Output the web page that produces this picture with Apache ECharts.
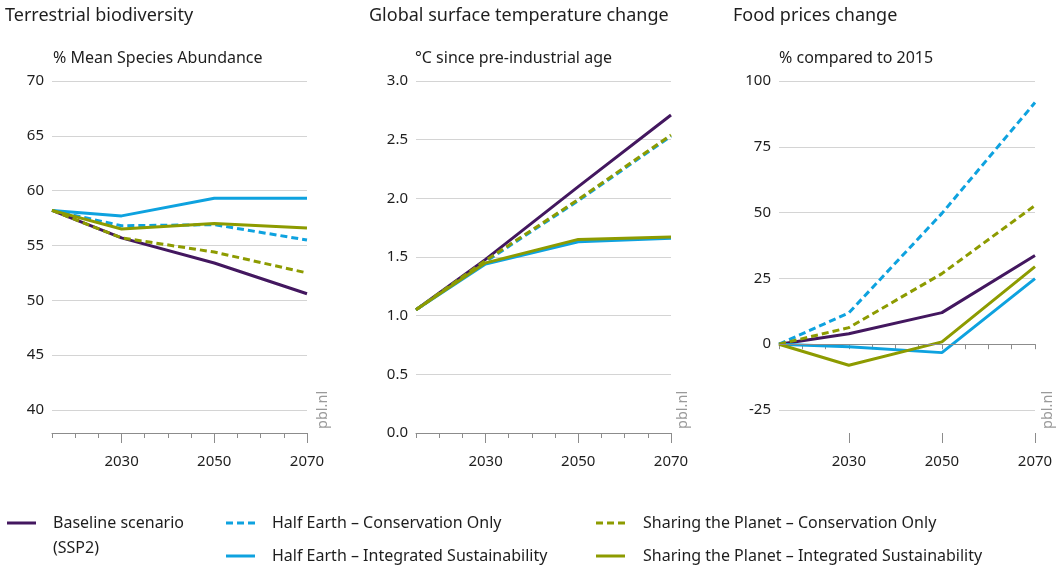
<!DOCTYPE html>
<html>
<head>
<meta charset="utf-8">
<script src="https://cdn.jsdelivr.net/npm/echarts@6/dist/echarts.min.js"></script>
<style>
  html, body { margin: 0; padding: 0; background: #fff; }
  #chart { width: 1064px; height: 568px; }
</style>
</head>
<body>
<div id="chart"></div>
<script>
// Scenario years (data points) and labelled axis years
const years = [2015, 2030, 2050, 2070];
const labeledYears = [2030, 2050, 2070];

// Terrestrial biodiversity, % Mean Species Abundance
const bioBaseline       = [58.2, 55.7, 53.4, 50.6];
const bioHalfEarthCons  = [58.2, 56.8, 56.9, 55.5];
const bioHalfEarthInt   = [58.2, 57.7, 59.3, 59.3];
const bioSharingCons    = [58.2, 55.7, 54.4, 52.5];
const bioSharingInt     = [58.2, 56.5, 57.0, 56.6];

// Global surface temperature change, °C since pre-industrial age
const tempBaseline      = [1.05, 1.48, 2.10, 2.71];
const tempHalfEarthCons = [1.05, 1.46, 1.98, 2.53];
const tempHalfEarthInt  = [1.05, 1.44, 1.63, 1.66];
const tempSharingCons   = [1.05, 1.47, 1.99, 2.54];
const tempSharingInt    = [1.05, 1.45, 1.65, 1.67];

// Food prices change, % compared to 2015
const foodBaseline      = [0, 4.0, 12.0, 33.7];
const foodHalfEarthCons = [0, 11.9, 49.7, 91.8];
const foodHalfEarthInt  = [0, -1.0, -3.2, 24.9];
const foodSharingCons   = [0, 6.3, 26.8, 52.7];
const foodSharingInt    = [0, -8.0, 0.9, 29.5];

// Panel titles and units
const panelTitles = ['Terrestrial biodiversity', 'Global surface temperature change', 'Food prices change'];
const panelUnits  = ['% Mean Species Abundance', '°C since pre-industrial age', '% compared to 2015'];

// Scenario names
const scenarioNames = [
  'Baseline scenario (SSP2)',
  'Half Earth – Conservation Only',
  'Half Earth – Integrated Sustainability',
  'Sharing the Planet – Conservation Only',
  'Sharing the Planet – Integrated Sustainability'
];

const PURPLE = '#43175f';
const BLUE = '#0ea2df';
const OLIVE = '#8d9b00';
const FONT = 'Noto Sans';
const TEXT = '#1e1e1e';
const DASH = [7, 4];

// style per scenario: [color, dashed]
const scenarioStyle = [
  [PURPLE, false],
  [BLUE, true],
  [BLUE, false],
  [OLIVE, true],
  [OLIVE, false]
];

// Panel geometry
const panels = [
  { left: 52,  right: 1064 - 307,  bottom: 568 - 410, offset: 23, min: 40, max: 70, interval: 5, fmt: v => String(v),
    titleX: 5, unitX: 53, srcDx: 16,
    data: [bioBaseline, bioHalfEarthCons, bioHalfEarthInt, bioSharingCons, bioSharingInt] },
  { left: 416, right: 1064 - 671,  bottom: 568 - 433, offset: 0,  min: 0, max: 3, interval: 0.5, fmt: v => v.toFixed(1),
    titleX: 369, unitX: 415, srcDx: 12,
    data: [tempBaseline, tempHalfEarthCons, tempHalfEarthInt, tempSharingCons, tempSharingInt] },
  { left: 779, right: 1064 - 1035, bottom: 568 - 410, offset: 23, min: -25, max: 100, interval: 25, fmt: v => String(v),
    titleX: 733, unitX: 779, srcDx: 13,
    data: [foodBaseline, foodHalfEarthCons, foodHalfEarthInt, foodSharingCons, foodSharingInt] }
];

const grid = [], xAxis = [], yAxis = [], series = [], title = [], graphic = [];

// draw order: baseline first, then Half Earth, then Sharing the Planet on top
const drawOrder = [0, 2, 1, 4, 3];

panels.forEach((p, i) => {
  grid.push({ left: p.left, right: p.right, top: 81, bottom: p.bottom });

  // axis with short ticks every 5 years
  xAxis.push({
    type: 'value', gridIndex: i, min: 2015, max: 2070, interval: 5, position: 'bottom', offset: p.offset,
    axisLine: { show: true, lineStyle: { color: '#8c8c8c', width: 1 } },
    axisTick: { show: true, length: 5, lineStyle: { color: '#8c8c8c' } },
    axisLabel: { show: false },
    splitLine: { show: false }
  });
  // overlay axis with longer ticks and labels at the labelled years
  xAxis.push({
    type: 'value', gridIndex: i, min: 2015, max: 2070, position: 'bottom', offset: p.offset,
    axisLine: { show: false },
    axisTick: { show: true, length: 10, customValues: labeledYears, lineStyle: { color: '#8c8c8c' } },
    axisLabel: { show: true, customValues: labeledYears, margin: 21, color: TEXT, fontFamily: FONT, fontSize: 15,
                 formatter: v => String(v) },
    splitLine: { show: false }
  });

  yAxis.push({
    type: 'value', gridIndex: i, min: p.min, max: p.max, interval: p.interval,
    axisLine: { show: false }, axisTick: { show: false },
    axisLabel: { color: TEXT, fontFamily: FONT, fontSize: 15, margin: 8, formatter: p.fmt },
    splitLine: { show: true, lineStyle: { color: '#d4d4d4', width: 1 } }
  });

  drawOrder.forEach(s => {
    const [color, dashed] = scenarioStyle[s];
    series.push({
      type: 'line', name: scenarioNames[s], xAxisIndex: i * 2, yAxisIndex: i,
      data: years.map((y, k) => [y, p.data[s][k]]),
      symbol: 'none', silent: true, animation: false,
      lineStyle: { color, width: 3, type: dashed ? DASH : 'solid', cap: 'butt' },
      itemStyle: { color }
    });
  });

  title.push({ text: panelTitles[i], left: p.titleX, top: 7, padding: 0,
               textStyle: { fontFamily: FONT, fontSize: 18, fontWeight: 'normal', color: TEXT } });
  title.push({ text: panelUnits[i], left: p.unitX, top: 50, padding: 0,
               textStyle: { fontFamily: FONT, fontSize: 16, fontWeight: 'normal', color: TEXT } });

  // vertical source label at the plot's lower right
  const rightX = 1064 - p.right;
  graphic.push({
    type: 'text', x: rightX + p.srcDx, y: 429, rotation: Math.PI / 2,
    style: { text: 'pbl.nl', fill: '#9a9a9a', font: '14.5px "' + FONT + '"', align: 'left', verticalAlign: 'middle' }
  });
});

// zero reference line in the food price panel
series.push({
  type: 'line', xAxisIndex: 4, yAxisIndex: 2, data: [], silent: true, animation: false, z: 1,
  markLine: { symbol: 'none', silent: true, label: { show: false }, animation: false,
              lineStyle: { color: '#8c8c8c', width: 1, type: 'solid' }, data: [{ yAxis: 0 }] }
});

// legend
const legendItems = [
  { s: 0, x: 7,   y: 523, tx: 53 },
  { s: 1, x: 226, y: 523, tx: 272 },
  { s: 2, x: 226, y: 556, tx: 272 },
  { s: 3, x: 596, y: 523, tx: 643 },
  { s: 4, x: 596, y: 556, tx: 643 }
];
legendItems.forEach(it => {
  const [color, dashed] = scenarioStyle[it.s];
  graphic.push({
    type: 'line', shape: { x1: it.x, y1: it.y, x2: it.x + 29, y2: it.y },
    style: { stroke: color, lineWidth: 3, lineDash: dashed ? DASH : null }
  });
  const label = it.s === 0 ? 'Baseline scenario' : scenarioNames[it.s];
  graphic.push({
    type: 'text', x: it.tx, y: it.y,
    style: { text: label, fill: TEXT, font: '16px "' + FONT + '"', verticalAlign: 'middle' }
  });
});
graphic.push({
  type: 'text', x: 53, y: 548,
  style: { text: '(SSP2)', fill: TEXT, font: '16px "' + FONT + '"', verticalAlign: 'middle' }
});

const chart = echarts.init(document.getElementById('chart'), null, { renderer: 'canvas' });
chart.setOption({
  animation: false,
  backgroundColor: '#ffffff',
  title, grid, xAxis, yAxis, series, graphic
});
</script>
</body>
</html>
